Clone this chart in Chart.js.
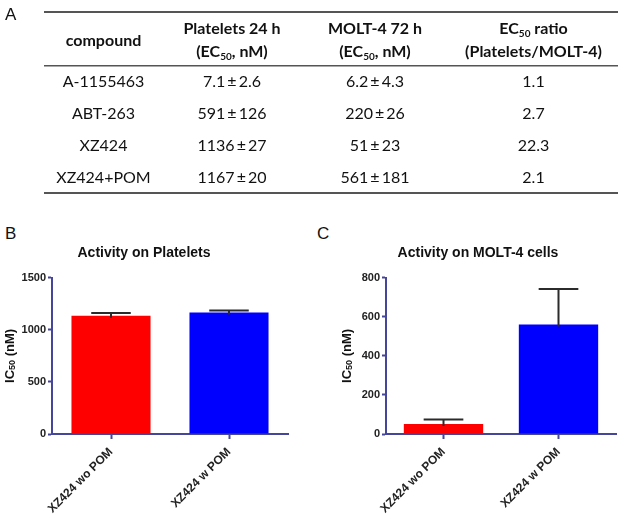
<!DOCTYPE html>
<html>
<head>
<meta charset="utf-8">
<script src="https://cdn.jsdelivr.net/npm/chart.js@4.4.0/dist/chart.umd.min.js"></script>
<style>
  body { margin: 0; width: 625px; height: 515px; overflow: hidden; background: #fff; position: relative; }
  .tag { position: absolute; font-family: 'Liberation Sans', Arial, sans-serif; font-size: 17px; color: #111; line-height: 1; }
  #tbl { position: absolute; left: 44px; top: 13px; width: 574px; border-collapse: collapse; border-spacing: 0; table-layout: fixed;
         font-family: Lato, 'Open Sans', sans-serif; font-size: 16px; color: #111; }
  #tbl th, #tbl td { padding: 0; text-align: center; white-space: nowrap; }
  #tbl th { height: 52px; line-height: 23px; font-weight: bold; }
  #tbl td { height: 32px; line-height: 32px; }
  #tbl sub { font-size: 10px; position: relative; top: 3px; vertical-align: baseline; line-height: 0; }
  canvas { position: absolute; }
</style>
</head>
<body>
<canvas id="rules" width="625" height="200" style="left:0px;top:0px;"></canvas>

<div class="tag" style="left:5px;top:6px;">A</div>
<div class="tag" style="left:5px;top:225px;">B</div>
<div class="tag" style="left:317px;top:225px;">C</div>

<table id="tbl">
  <colgroup><col style="width:119px"><col style="width:138px"><col style="width:148px"><col style="width:169px"></colgroup>
  <thead>
    <tr>
      <th>compound</th>
      <th>Platelets 24 h<br>(EC<sub>50</sub>, nM)</th>
      <th>MOLT-4 72 h<br>(EC<sub>50</sub>, nM)</th>
      <th>EC<sub>50</sub> ratio<br>(Platelets/MOLT-4)</th>
    </tr>
  </thead>
  <tbody id="tbody"></tbody>
</table>

<canvas id="chartB" width="310" height="300" style="left:0px;top:215px;"></canvas>
<canvas id="chartC" width="298" height="300" style="left:340px;top:215px;"></canvas>

<script>
// table data
const compounds = ['A-1155463', 'ABT-263', 'XZ424', 'XZ424+POM'];
const plateletMean = [7.1, 591, 1136, 1167];
const plateletSd = [2.6, 126, 27, 20];
const moltMean = [6.2, 220, 51, 561];
const moltSd = [4.3, 26, 23, 181];
const ratio = [1.1, 2.7, 22.3, 2.1];

// bar chart data
const barLabels = ['XZ424 wo POM', 'XZ424 w POM'];
const plateletBars = [1136, 1167];
const plateletErr = [27, 20];
const moltBars = [51, 561];
const moltErr = [23, 181];

const axisColor = '#45459a';
const barColors = ['#ff0000', '#0000ff'];
const fontFamily = 'Arial, "Liberation Sans", sans-serif';

let rows = '';
compounds.forEach((c, i) => {
  rows += `<tr><td>${c}</td><td>${plateletMean[i]}\u2009±\u2009${plateletSd[i]}</td>`
    + `<td>${moltMean[i]}\u2009±\u2009${moltSd[i]}</td><td>${ratio[i].toFixed(1)}</td></tr>`;
});
document.getElementById('tbody').innerHTML = rows;

// table rules (top, under header, bottom)
const rctx = document.getElementById('rules').getContext('2d');
rctx.fillStyle = '#555';
rctx.fillRect(44, 11, 574, 2);
rctx.fillRect(44, 65, 574, 1.5);
rctx.fillRect(44, 192, 574, 2);

// upper error bars only
const errorBars = {
  id: 'errorBars',
  afterDatasetsDraw(chart) {
    const { ctx } = chart;
    const ds = chart.data.datasets[0];
    const yScale = chart.scales.y;
    ctx.save();
    ctx.strokeStyle = '#2b2b2b';
    ctx.lineWidth = 2;
    chart.getDatasetMeta(0).data.forEach((bar, i) => {
      const top = yScale.getPixelForValue(ds.data[i] + ds.errors[i]);
      const half = bar.width / 4;
      ctx.beginPath();
      ctx.moveTo(bar.x, bar.y + 2);
      ctx.lineTo(bar.x, top);
      ctx.moveTo(bar.x - half, top);
      ctx.lineTo(bar.x + half, top);
      ctx.stroke();
    });
    ctx.restore();
  }
};

// rotated y title with a real subscript
const yTitle = {
  id: 'yTitle',
  afterDraw(chart, args, opts) {
    const { ctx, chartArea } = chart;
    const parts = [['IC', 13, 0], ['50', 9, 3], [' (nM)', 13, 0]];
    ctx.save();
    ctx.translate(opts.x, (chartArea.top + chartArea.bottom) / 2);
    ctx.rotate(-Math.PI / 2);
    ctx.fillStyle = '#111';
    ctx.textBaseline = 'middle';
    let total = 0;
    parts.forEach(([t, s]) => { ctx.font = `bold ${s}px ${fontFamily}`; total += ctx.measureText(t).width; });
    let x = -total / 2;
    parts.forEach(([t, s, dy]) => {
      ctx.font = `bold ${s}px ${fontFamily}`;
      ctx.fillText(t, x, dy);
      x += ctx.measureText(t).width;
    });
    ctx.restore();
  }
};

Chart.defaults.font.family = fontFamily;
Chart.defaults.color = '#222';

const makeBar = (id, title, values, errs, max, step, barPct, yWidth, titleX) => {
  // eslint-disable-next-line no-new
  new Chart(document.getElementById(id), {
    type: 'bar',
    data: {
      labels: barLabels,
      datasets: [{
        data: values,
        errors: errs,
        backgroundColor: barColors,
        borderWidth: 0,
        categoryPercentage: 1,
        barPercentage: barPct,
      }]
    },
    options: {
      responsive: false,
      animation: false,
      devicePixelRatio: 1,
      layout: { padding: { left: 0, right: 22, top: 0, bottom: 0 } },
      plugins: {
        legend: { display: false },
        tooltip: { enabled: false },
        title: {
          display: true,
          text: title,
          color: '#111',
          font: { size: 14, weight: 'bold' },
          padding: { top: 30, bottom: 16 },
        },
        yTitle: { x: titleX },
      },
      scales: {
        x: {
          grid: { drawOnChartArea: false, offset: false, tickLength: 5, tickWidth: 2, tickColor: axisColor },
          border: { color: axisColor, width: 2 },
          ticks: { minRotation: 45, maxRotation: 45, autoSkip: false, padding: 6, font: { size: 12, weight: 'bold' } },
          afterFit: (s) => { s.height = 81; },
        },
        y: {
          min: 0,
          max: max,
          grid: { drawOnChartArea: false, tickLength: 4, tickWidth: 2, tickColor: axisColor },
          border: { color: axisColor, width: 2 },
          ticks: { stepSize: step, padding: 2, font: { size: 11, weight: 'bold' }, callback: (v) => String(v) },
          afterFit: (s) => { s.width = yWidth; },
        },
      },
    },
    plugins: [errorBars, yTitle],
  });
};

makeBar('chartB', 'Activity on Platelets', plateletBars, plateletErr, 1500, 500, 0.67, 52, 10);
makeBar('chartC', 'Activity on MOLT-4 cells', moltBars, moltErr, 800, 200, 0.69, 46, 7);
</script>
</body>
</html>
